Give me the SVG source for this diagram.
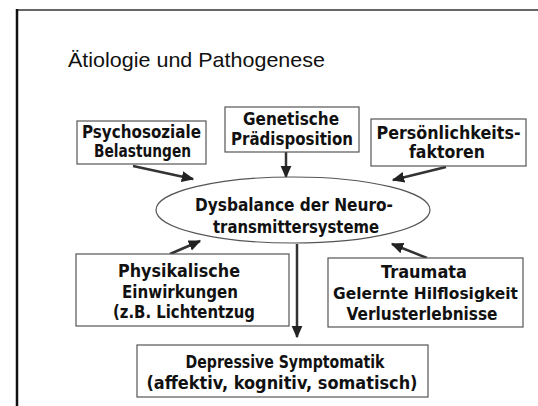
<svg xmlns="http://www.w3.org/2000/svg" width="538" height="406" viewBox="0 0 538 406">
<style>
.box{fill:#fff;stroke:#555;stroke-width:1.2}
.t{font-family:"DejaVu Sans",Verdana,sans-serif;font-weight:bold;font-size:18px;fill:#111;text-anchor:middle}
.title{font-family:"Liberation Sans",Arial,sans-serif;font-size:21px;fill:#111}
.arr{stroke:#333;stroke-width:2.5;fill:none;marker-end:url(#ah)}
</style>
<defs>
<marker id="ah" markerWidth="5" markerHeight="5" refX="4.5" refY="2.5" orient="auto" markerUnits="strokeWidth">
<path d="M0,0.3 L5,2.5 L0,4.7 Z" fill="#222"/>
</marker>
</defs>
<rect width="538" height="406" fill="#fff"/>
<g id="frame">
<line x1="17" y1="10" x2="538" y2="10" stroke="#666" stroke-width="2"/>
<line x1="17" y1="9" x2="17" y2="406" stroke="#111" stroke-width="2.5"/>
</g>
<g id="title"><text class="title" x="68" y="67" textLength="257" lengthAdjust="spacingAndGlyphs">Ätiologie und Pathogenese</text></g>
<g id="connectors">
<line class="arr" x1="133" y1="166" x2="193" y2="179"/>
<line class="arr" x1="286" y1="152" x2="286" y2="177"/>
<line class="arr" x1="446" y1="167" x2="393" y2="180"/>
<line class="arr" x1="170" y1="254" x2="200" y2="241"/>
<line class="arr" x1="427" y1="258" x2="392" y2="244"/>
<line class="arr" x1="297" y1="244" x2="297" y2="337"/>
</g>
<g id="psychosoziale">
<rect class="box" x="77" y="121" width="129" height="43"/>
<text class="t" x="141.5" y="138" textLength="119" lengthAdjust="spacingAndGlyphs">Psychosoziale</text>
<text class="t" x="142.5" y="157" textLength="97" lengthAdjust="spacingAndGlyphs">Belastungen</text>
</g>
<g id="genetische">
<rect class="box" x="225" y="107" width="134" height="45"/>
<text class="t" x="291" y="125" textLength="96" lengthAdjust="spacingAndGlyphs">Genetische</text>
<text class="t" x="292" y="145" textLength="122" lengthAdjust="spacingAndGlyphs">Prädisposition</text>
</g>
<g id="persoenlichkeit">
<rect class="box" x="371" y="119" width="155" height="47"/>
<text class="t" x="448.5" y="139" textLength="144" lengthAdjust="spacingAndGlyphs">Persönlichkeits-</text>
<text class="t" x="447" y="158" textLength="76" lengthAdjust="spacingAndGlyphs">faktoren</text>
</g>
<g id="dysbalance">
<ellipse cx="293" cy="210" rx="137" ry="33" fill="#fff" stroke="#555" stroke-width="1.2"/>
<text class="t" x="294" y="211" textLength="198" lengthAdjust="spacingAndGlyphs">Dysbalance der Neuro-</text>
<text class="t" x="296" y="233" textLength="166" lengthAdjust="spacingAndGlyphs">transmittersysteme</text>
</g>
<g id="physikalische">
<rect class="box" x="76" y="254" width="213" height="72"/>
<text class="t" x="179" y="277" textLength="122" lengthAdjust="spacingAndGlyphs">Physikalische</text>
<text class="t" x="180" y="298" textLength="116" lengthAdjust="spacingAndGlyphs">Einwirkungen</text>
<text class="t" x="184" y="318" textLength="142" lengthAdjust="spacingAndGlyphs">(z.B. Lichtentzug</text>
</g>
<g id="traumata">
<rect class="box" x="328" y="258" width="195" height="69"/>
<text class="t" x="424" y="278" textLength="86" lengthAdjust="spacingAndGlyphs">Traumata</text>
<text class="t" x="425.5" y="299" style="font-size:16px" textLength="185" lengthAdjust="spacingAndGlyphs">Gelernte Hilflosigkeit</text>
<text class="t" x="422" y="320" textLength="151" lengthAdjust="spacingAndGlyphs">Verlusterlebnisse</text>
</g>
<g id="depressive">
<rect class="box" x="137" y="345" width="291" height="52"/>
<text class="t" x="285" y="368" textLength="199" lengthAdjust="spacingAndGlyphs">Depressive Symptomatik</text>
<text class="t" x="282" y="389" textLength="271" lengthAdjust="spacingAndGlyphs">(affektiv, kognitiv, somatisch)</text>
</g>
</svg>
